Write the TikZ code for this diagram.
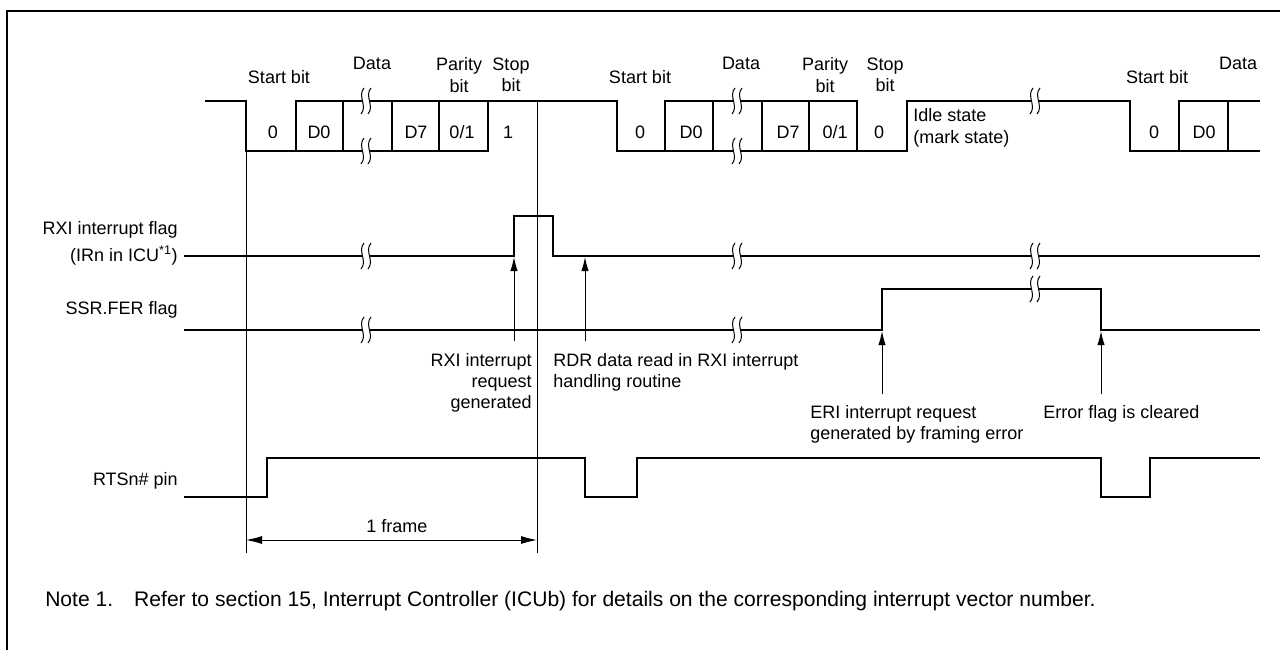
\documentclass[tikz,border=0pt]{standalone}
\usepackage{fontspec}
\setmainfont{Liberation Sans}
\usetikzlibrary{arrows.meta}

\begin{document}
\begin{tikzpicture}[x=0.75pt, y=-0.75pt,
      lbl/.style={font=\fontsize{13.5}{16}\selectfont, inner sep=0pt},
      sig/.style={draw, line width=1.4pt},
      refl/.style={draw, line width=0.75pt},
      arr/.style={-{Latex[length=10.5pt, width=5.5pt]}, draw, line width=0.75pt},
      dim/.style={{Latex[length=12pt, width=6pt]}-{Latex[length=12pt, width=6pt]}, draw, line width=0.75pt},
      brk/.pic={
        \fill[white] (-2,-13) .. controls (-9,-5) and (2,5) .. (-5,13)
          -- (2,13) .. controls (9,5) and (-2,-5) .. (5,-13) -- cycle;
        \draw[line width=0.75pt] (-2,-13) .. controls (-9,-5) and (2,5) .. (-5,13);
        \draw[line width=0.75pt] (5,-13) .. controls (-2,-5) and (9,5) .. (2,13);
      }
    ]
    \useasboundingbox (0,0) rectangle (1280,650);
    % frame
    \draw[line width=2.2pt] (7,650) -- (7,11) -- (1280,11);
    % === Reference lines ===
    \draw[refl] (246,101) -- (246,553);
    \draw[refl] (537,101) -- (537,553);
    % === Serial data ===
    \draw[sig] (205,101) -- (246,101) -- (246,151) -- (488,151) -- (488,101);
    \draw[sig] (296,151) -- (296,101) -- (617,101) -- (617,151) -- (907,151)
      -- (907,101) -- (1130,101) -- (1130,151) -- (1260,151);
    \draw[sig] (665,151) -- (665,101) -- (857,101) -- (857,151);
    \draw[sig] (1179,151) -- (1179,101) -- (1260,101);
    \foreach \xc in {343, 392, 439, 713, 762, 809, 1228}
      \draw[sig] (\xc,101) -- (\xc,151);
    \pic at (366,101) {brk};
    \pic at (366,151) {brk};
    \pic at (737,101) {brk};
    \pic at (737,151) {brk};
    \pic at (1035,101) {brk};
    % bit labels
    \node[lbl] (st1) at (279,77) {Start bit};
    \node[lbl] (da1) at (372,63) {Data};
    \node[lbl, align=center] (pa1) at (459,75) {Parity\\bit};
    \node[lbl, align=center] (sp1) at (511,75) {Stop\\bit};
    \node[lbl] (b10) at (273,132) {0};
    \node[lbl] (b11) at (319,132) {D0};
    \node[lbl] (b12) at (416,132) {D7};
    \node[lbl] (b13) at (462,132) {0/1};
    \node[lbl] (b14) at (508,132) {1};
    \node[lbl] (st2) at (640,77) {Start bit};
    \node[lbl] (da2) at (741,63) {Data};
    \node[lbl, align=center] (pa2) at (825,75) {Parity\\bit};
    \node[lbl, align=center] (sp2) at (885,75) {Stop\\bit};
    \node[lbl] (b20) at (640,132) {0};
    \node[lbl] (b21) at (691,132) {D0};
    \node[lbl] (b22) at (788,132) {D7};
    \node[lbl] (b23) at (835,132) {0/1};
    \node[lbl] (b24) at (879,132) {0};
    \node[lbl, align=left, anchor=west] (idl) at (913,128) {Idle state\\(mark state)};
    \node[lbl] (st3) at (1157,77) {Start bit};
    \node[lbl] (da3) at (1238,63) {Data};
    \node[lbl] (b30) at (1154,132) {0};
    \node[lbl] (b31) at (1204,132) {D0};
    % === RXI interrupt flag ===
    \node[lbl, anchor=east] (rxi) at (178,230) {RXI interrupt flag};
    \node[lbl, anchor=east] (rxi2) at (178,256) {(IRn in ICU\textsuperscript{*1})};
    \draw[sig] (184,256) -- (514,256) -- (514,216) -- (553,216) -- (553,256) -- (1260,256);
    \pic at (366,256) {brk};
    \pic at (737,256) {brk};
    \pic at (1035,256) {brk};
    % === SSR.FER flag ===
    \node[lbl, anchor=east] (fer) at (178,310) {SSR.FER flag};
    \draw[sig] (184,330) -- (882,330) -- (882,289) -- (1101,289) -- (1101,330) -- (1260,330);
    \pic at (366,330) {brk};
    \pic at (737,330) {brk};
    \pic at (1035,289) {brk};
    % === event arrows ===
    \coordinate (a1) at (514,341);
    \coordinate (a2) at (585,341);
    \coordinate (a3) at (882,394);
    \coordinate (a4) at (1101,394);
    \draw[arr] (a1) -- (514,257);
    \draw[arr] (a2) -- (585,257);
    \draw[arr] (a3) -- (882,331);
    \draw[arr] (a4) -- (1101,331);
    \node[lbl, align=right, anchor=north east] (ev1) at (532,353) {RXI interrupt\\request\\generated};
    \node[lbl, align=left, anchor=north west] (ev2) at (553,353) {RDR data read in RXI interrupt\\handling routine};
    \node[lbl, align=left, anchor=north west] (ev3) at (810,405) {ERI interrupt request\\generated by framing error};
    \node[lbl, anchor=north west] (ev4) at (1043,405) {Error flag is cleared};
    % === RTSn# pin ===
    \node[lbl, anchor=east] (rts) at (178,481) {RTSn\# pin};
    \draw[sig] (184,497) -- (267,497) -- (267,458) -- (585,458) -- (585,497) -- (637,497)
      -- (637,458) -- (1101,458) -- (1101,497) -- (1150,497) -- (1150,458) -- (1260,458);
    % === 1 frame ===
    \coordinate (f1) at (246,540);
    \coordinate (f2) at (537,540);
    \draw[dim] (f1) -- (f2);
    \node[lbl] (frm) at (397,526) {1 frame};
    % note
    \node[lbl, font=\fontsize{15.8}{18}\selectfont, anchor=west] (note) at (45,601) {Note 1.\hspace{1em}Refer to section 15, Interrupt Controller (ICUb) for details on the corresponding interrupt vector number.};
  \end{tikzpicture}
\end{document}
